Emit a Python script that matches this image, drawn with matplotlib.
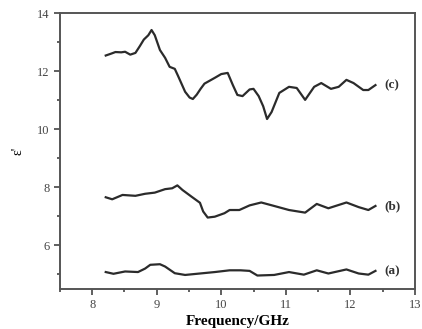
import numpy as np
import matplotlib
matplotlib.use("Agg")
import matplotlib.pyplot as plt
from matplotlib.ticker import MultipleLocator

plt.rcParams["font.family"] = ["Liberation Serif", "DejaVu Serif"]

# curve (c)
freq_c = [8.21, 8.30, 8.36, 8.45, 8.51, 8.59, 8.67, 8.74, 8.80, 8.87, 8.92, 8.97, 9.05, 9.13, 9.20,
          9.28, 9.33, 9.44, 9.51, 9.56, 9.62, 9.68, 9.74, 9.82, 9.90, 10.00, 10.10, 10.18, 10.25,
          10.33, 10.44, 10.50, 10.58, 10.65, 10.71, 10.78, 10.90, 11.05, 11.17, 11.30, 11.44,
          11.55, 11.70, 11.82, 11.94, 12.05, 12.20, 12.28, 12.39]
eps_c = [12.55, 12.62, 12.67, 12.66, 12.68, 12.58, 12.64, 12.88, 13.10, 13.25, 13.43, 13.25, 12.74,
         12.47, 12.16, 12.09, 11.85, 11.30, 11.10, 11.05, 11.20, 11.40, 11.58, 11.68, 11.78, 11.91,
         11.95, 11.53, 11.19, 11.15, 11.38, 11.40, 11.15, 10.80, 10.36, 10.60, 11.26, 11.47, 11.43,
         11.02, 11.47, 11.60, 11.40, 11.47, 11.71, 11.60, 11.36, 11.36, 11.53]

# curve (b)
freq_b = [8.21, 8.31, 8.47, 8.67, 8.82, 8.97, 9.13, 9.24, 9.32, 9.40, 9.54, 9.67, 9.72, 9.79, 9.90,
          10.05, 10.13, 10.28, 10.44, 10.62, 10.82, 11.05, 11.30, 11.48, 11.66, 11.94, 12.13,
          12.28, 12.39]
eps_b = [7.66, 7.59, 7.74, 7.71, 7.78, 7.82, 7.94, 7.97, 8.07, 7.91, 7.68, 7.47, 7.17, 6.96, 6.99,
         7.11, 7.22, 7.22, 7.38, 7.48, 7.36, 7.22, 7.13, 7.43, 7.28, 7.48, 7.32, 7.22, 7.36]

# curve (a)
freq_a = [8.21, 8.33, 8.51, 8.71, 8.82, 8.90, 9.05, 9.13, 9.28, 9.44, 9.67, 9.90, 10.13, 10.30,
          10.44, 10.56, 10.82, 11.05, 11.28, 11.48, 11.66, 11.94, 12.13, 12.28, 12.39]
eps_a = [5.08, 5.02, 5.10, 5.08, 5.20, 5.33, 5.35, 5.27, 5.04, 4.98, 5.03, 5.08, 5.14, 5.14,
         5.12, 4.96, 4.98, 5.08, 4.99, 5.14, 5.03, 5.17, 5.03, 4.99, 5.12]

labels = ["(a)", "(b)", "(c)"]

fig = plt.figure(figsize=(4.22, 3.29), dpi=100)
ax = fig.add_axes([0.142, 0.122, 0.841, 0.837])

for f, e in [(freq_c, eps_c), (freq_b, eps_b), (freq_a, eps_a)]:
    ax.plot(f, e, color="#2b2b2b", lw=1.6)

for lab, f, e in zip(labels, [freq_a, freq_b, freq_c], [eps_a, eps_b, eps_c]):
    ax.text(f[-1] + 0.14, e[-1], lab, fontsize=9.5, va="center", ha="left",
            color="#333333", fontweight="semibold")

ax.set_xlim(7.5, 13)
ax.set_ylim(4.5, 14)
ax.xaxis.set_major_locator(MultipleLocator(1))
ax.xaxis.set_minor_locator(MultipleLocator(0.5))
ax.yaxis.set_major_locator(MultipleLocator(2))
ax.yaxis.set_minor_locator(MultipleLocator(1))
ax.tick_params(which="both", direction="out", colors="#444444", labelsize=9, width=1.2)
ax.tick_params(which="major", length=4)
ax.tick_params(which="minor", length=2.5)
ax.set_xticks(range(8, 14))
ax.set_yticks(range(6, 15, 2))
for s in ax.spines.values():
    s.set_color("#555555")
    s.set_linewidth(1.4)

ax.set_xlabel("Frequency/GHz", fontsize=11, fontweight="bold", labelpad=3)
ax.set_ylabel("ε'", fontsize=10, labelpad=9)

fig.savefig("out.png", dpi=100)
